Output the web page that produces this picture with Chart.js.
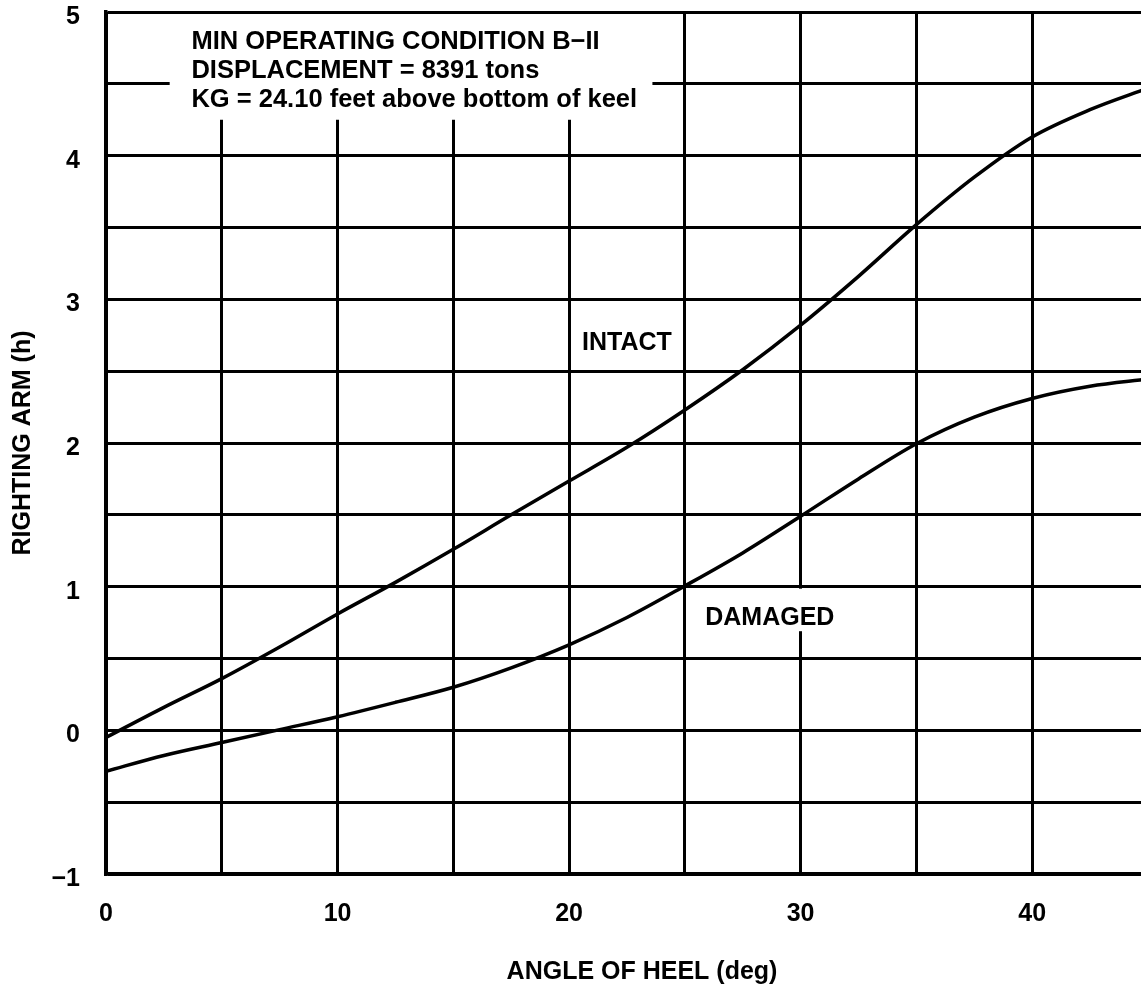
<!DOCTYPE html>
<html>
<head>
<meta charset="utf-8">
<title>Righting arm curves</title>
<script src="https://cdn.jsdelivr.net/npm/chart.js@4.4.1/dist/chart.umd.min.js"></script>
<style>
  html, body { margin: 0; padding: 0; background: #fff; overflow: hidden; }
  canvas { display: block; }
</style>
</head>
<body>
<canvas id="stabilityChart" width="1178" height="992"></canvas>
<script>
// angle of heel (deg)
var angles = [0, 2.5, 5, 7.5, 10, 12.5, 15, 17.5, 20, 22.5, 25, 27.5, 30, 32.5, 35, 37.5, 40, 42.5, 45];
// righting arm (h)
var intact = [-0.05, 0.16, 0.36, 0.58, 0.81, 1.03, 1.26, 1.50, 1.735, 1.97, 2.23, 2.51, 2.82, 3.16, 3.52, 3.85, 4.13, 4.32, 4.47];
var damaged = [-0.285, -0.175, -0.085, 0.005, 0.095, 0.195, 0.30, 0.435, 0.595, 0.785, 1.005, 1.235, 1.49, 1.75, 1.995, 2.18, 2.31, 2.395, 2.445];

var noteLines = ['MIN OPERATING CONDITION B\u2212II', 'DISPLACEMENT = 8391 tons', 'KG = 24.10 feet above bottom of keel'];
var curveLabels = ['INTACT', 'DAMAGED'];

var FONT = '"Liberation Sans", Arial, Helvetica, sans-serif';

function points(ys) {
    return angles.map(function (a, i) { return { x: a, y: ys[i] }; });
}

var overlay = {
    id: 'overlay',
    beforeDatasetsDraw: function (chart) {
        var ctx = chart.ctx, x = chart.scales.x, y = chart.scales.y;
        ctx.save();
        ctx.fillStyle = '#fff';
        // white patch behind the condition note
        var bx0 = x.getPixelForValue(2.75), bx1 = x.getPixelForValue(23.6);
        var by0 = chart.chartArea.top + 2, by1 = y.getPixelForValue(4.25);
        ctx.fillRect(bx0, by0, bx1 - bx0, by1 - by0);
        // white patch behind DAMAGED
        var dx0 = x.getPixelForValue(25.6), dx1 = x.getPixelForValue(31.6);
        var dy0 = y.getPixelForValue(1) + 2, dy1 = y.getPixelForValue(0.69);
        ctx.fillRect(dx0, dy0, dx1 - dx0, dy1 - dy0);
        ctx.restore();
    },
    afterDatasetsDraw: function (chart) {
        var ctx = chart.ctx, x = chart.scales.x, y = chart.scales.y;
        ctx.save();
        ctx.fillStyle = '#000';
        ctx.font = 'bold 25.5px ' + FONT;
        ctx.textAlign = 'left';
        ctx.textBaseline = 'middle';
        var noteY = [4.79, 4.59, 4.39];
        noteLines.forEach(function (t, i) {
            ctx.fillText(t, x.getPixelForValue(3.69), y.getPixelForValue(noteY[i]));
        });
        ctx.font = 'bold 25px ' + FONT;
        ctx.textAlign = 'center';
        ctx.fillText(curveLabels[0], x.getPixelForValue(22.5), y.getPixelForValue(2.695));
        ctx.fillText(curveLabels[1], x.getPixelForValue(28.67), y.getPixelForValue(0.778));
        ctx.restore();
    }
};

document.addEventListener('DOMContentLoaded', function () {
    Chart.defaults.font.family = FONT;
    Chart.defaults.font.weight = 'bold';
    Chart.defaults.color = '#000';

    var ctx = document.getElementById('stabilityChart').getContext('2d');
    var chart = new Chart(ctx, {
        type: 'line',
        data: {
            datasets: [
                {
                    label: 'Intact',
                    data: points(intact),
                    borderColor: '#000',
                    borderWidth: 3.5,
                    pointRadius: 0,
                    cubicInterpolationMode: 'monotone',
                    fill: false
                },
                {
                    label: 'Damaged',
                    data: points(damaged),
                    borderColor: '#000',
                    borderWidth: 3.5,
                    pointRadius: 0,
                    cubicInterpolationMode: 'monotone',
                    fill: false
                }
            ]
        },
        options: {
            responsive: false,
            animation: false,
            layout: {
                padding: { top: 12, left: 0, right: 0, bottom: 0 }
            },
            scales: {
                x: {
                    type: 'linear',
                    min: 0,
                    max: 46.3,
                    afterFit: function (scale) { scale.height = 118; },
                    title: {
                        display: true,
                        text: 'ANGLE OF HEEL (deg)',
                        color: '#000',
                        font: { size: 25, weight: 'bold' },
                        padding: { top: 0, bottom: 5 }
                    },
                    ticks: {
                        stepSize: 5,
                        includeBounds: false,
                        maxRotation: 0,
                        autoSkip: false,
                        padding: 0,
                        color: '#000',
                        font: { size: 25, weight: 'bold' },
                        callback: function (v) { return v % 10 === 0 ? String(v) : ''; }
                    },
                    grid: {
                        color: '#000',
                        lineWidth: 3,
                        drawTicks: true,
                        tickLength: 25,
                        tickColor: 'rgba(0,0,0,0)'
                    },
                    border: { display: true, color: '#000', width: 3.5 }
                },
                y: {
                    min: -1,
                    max: 5,
                    afterFit: function (scale) { scale.width = 106; },
                    title: {
                        display: true,
                        text: 'RIGHTING ARM (h)',
                        color: '#000',
                        font: { size: 25, weight: 'bold' },
                        padding: { top: 8, bottom: 0 }
                    },
                    ticks: {
                        stepSize: 0.5,
                        autoSkip: false,
                        padding: 0,
                        labelOffset: 5,
                        color: '#000',
                        font: { size: 25, weight: 'bold', lineHeight: 0.9 },
                        callback: function (v) {
                            if (!Number.isInteger(v)) return '';
                            return v < 0 ? '\u2212' + Math.abs(v) : String(v);
                        }
                    },
                    grid: {
                        color: '#000',
                        lineWidth: 3,
                        drawTicks: true,
                        tickLength: 26,
                        tickColor: 'rgba(0,0,0,0)'
                    },
                    border: { display: true, color: '#000', width: 3.5 }
                }
            },
            plugins: {
                legend: { display: false },
                tooltip: { enabled: false }
            }
        },
        plugins: [overlay]
    });
});
</script>
</body>
</html>
